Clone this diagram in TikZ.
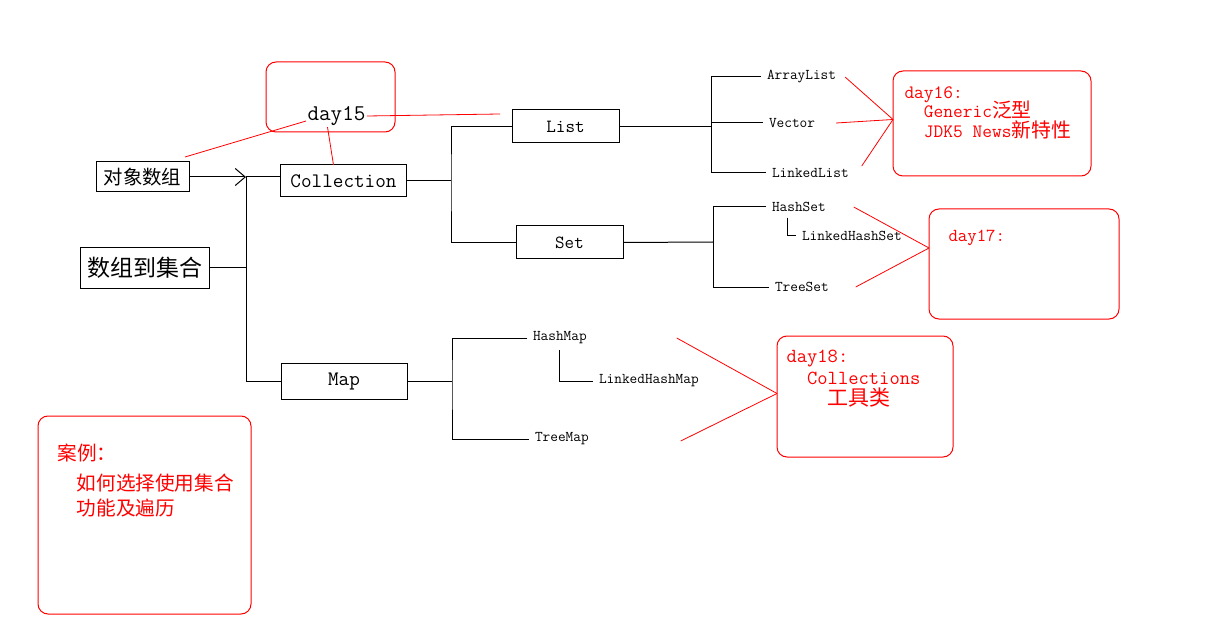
\documentclass[tikz,border=0pt]{standalone}
\usepackage{fontspec}
\setmainfont{Latin Modern Mono}
\newfontfamily\cjk[Scale=1.05]{Noto Sans CJK SC}
\usetikzlibrary{arrows.meta}
\newcommand{\pxsize}[2]{\fontsize{#1}{#2}\selectfont\lineskiplimit=-30pt}
\begin{document}
\begin{tikzpicture}[x=1pt,y=-1pt,line width=1pt,
        box/.style={draw,rectangle,inner sep=0pt,outer sep=0pt},
        leaf/.style={inner sep=2pt,outer sep=4pt,anchor=west,font=\pxsize{14.9}{17}},
        note/.style={draw=red,rounded corners=10pt,inner sep=0pt,outer sep=0pt},
        notetext/.style={text=red,align=left,inner sep=0pt,anchor=north west},
        tie/.style={red,line width=0.8pt}
    ]
    \useasboundingbox (0,0) rectangle (1212,644);

    \node[box,minimum width=93pt,minimum height=30pt,font=\pxsize{18.5}{20}] (obj) at (142.5,177) {\cjk 对象数组};
    \node[box,minimum width=129pt,minimum height=40pt,font=\pxsize{21.9}{24}] (arr) at (145,268) {\cjk 数组到集合};
    \node[box,minimum width=126pt,minimum height=32pt,font=\pxsize{20.6}{22}] (coll) at (343.5,181) {Collection};
    \node[box,minimum width=107pt,minimum height=33pt,font=\pxsize{18.6}{20}] (list) at (565.5,126.5) {List};
    \node[box,minimum width=107pt,minimum height=33pt,font=\pxsize{18.5}{20}] (set) at (569.5,242.5) {Set};
    \node[box,minimum width=126pt,minimum height=36pt,font=\pxsize{20.6}{22}] (map) at (344,381) {Map};

    \coordinate (jt) at (246,177);
    \coordinate (jb) at (246,381);
    \coordinate (jc) at (451,181);
    \coordinate (jl) at (711,124);
    \coordinate (js) at (713,242);
    \coordinate (jm) at (452,381);

    \node[leaf] (al) at (761,77) {ArrayList};
    \node[leaf] (vec) at (763,123) {Vector};
    \node[leaf] (ll) at (766,173) {LinkedList};
    \node[leaf] (hs) at (766,207) {HashSet};
    \node[leaf] (lhs) at (796,236) {LinkedHashSet};
    \node[leaf] (ts) at (769,287) {TreeSet};
    \node[leaf] (hm) at (527,338) {HashMap};
    \node[leaf] (lhm) at (593,381) {LinkedHashMap};
    \node[leaf] (tm) at (529,439) {TreeMap};

    \draw[-{Straight Barb[length=10pt,width=17pt]}] (obj.east) -- (jt);
    \draw (jt) -- (jt -| coll.west);
    \draw (jt) -- (jb) -- (map.west);
    \draw (arr.east) -- (arr.east -| jt);
    \draw (coll.east) -- (jc);
    \draw (list.west) -| (jc) |- (set.west);
    \draw (list.east) -- (list.east -| jl);
    \draw (al.west) -| (jl) |- (ll.west);
    \draw (jl |- vec.west) -- (vec.west);
    \draw (set.east) -- (js);
    \draw (hs.west) -| (js) |- (ts.west);
    \draw ([xshift=21pt]hs.south west) |- (lhs.west);
    \draw (map.east) -- (jm);
    \draw (hm.west) -| (jm) |- (tm.west);
    \draw ([xshift=32pt]hm.south west) |- (lhm.west);

    \node[note,minimum width=129pt,minimum height=70pt] (n15) at (330.5,97) {};
    \node[font=\pxsize{22.5}{24},inner sep=1pt] (d15) at (336.5,116) {day15};
    \coordinate (d15end) at (500,114);
    \draw[tie] (d15.east) -- (d15end);
    \draw[tie] ([yshift=-5pt]d15.west) -- ([shift={(-4pt,5pt)}]obj.north east);
    \draw[tie] ([xshift=-9pt]d15.south) -- ([xshift=-10pt]coll.north);

    \node[note,minimum width=198pt,minimum height=105pt] (n16) at (992,123.5) {};
    \node[notetext,font=\pxsize{18.9}{19.5}] (t16) at (904,86)
        {day16:\\\phantom{xx}Generic{\cjk 泛型}\\\phantom{xx}JDK5 News{\cjk 新特性}};
    \draw[tie] ([xshift=3pt]al.east) -- ([yshift=4pt]n16.west);
    \draw[tie] ([xshift=15pt]vec.east) -- ([yshift=4pt]n16.west);
    \draw[tie] ([xshift=7pt,yshift=7pt]ll.east) -- ([yshift=4pt]n16.west);

    \node[note,minimum width=190pt,minimum height=110pt] (n17) at (1024,264) {};
    \node[notetext,anchor=west,font=\pxsize{18.3}{20}] (t17) at (948,238) {day17:};
    \draw[tie] ([xshift=22pt]hs.east) -- ([yshift=16pt]n17.west);
    \draw[tie] ([xshift=21pt]ts.east) -- ([yshift=16pt]n17.west);

    \node[note,minimum width=176pt,minimum height=121pt] (n18) at (865,396.5) {};
    \node[notetext,font=\pxsize{20}{21.5}] (t18) at (786,350)
        {day18:\\\phantom{xx}Collections\\\phantom{xxxx}{\cjk 工具类}};
    \draw[tie] ([xshift=84pt]hm.east) -- ([yshift=3pt]n18.west);
    \draw[tie] ([xshift=86pt,yshift=-2pt]tm.east) -- ([yshift=3pt]n18.west);

    \node[note,minimum width=213pt,minimum height=198pt] (n0) at (144.5,515) {};
    \node[notetext,font=\pxsize{18.7}{25}] (t0) at (57,443)
        {{\cjk 案例：}\\[5pt]\phantom{xx}{\cjk 如何选择使用集合}\\\phantom{xx}{\cjk 功能及遍历}};
\end{tikzpicture}
\end{document}
